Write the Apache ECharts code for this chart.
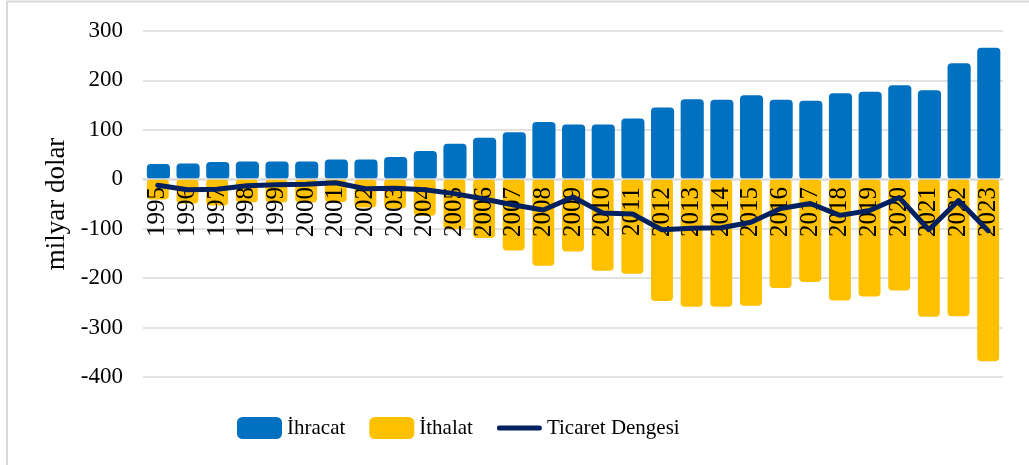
<!DOCTYPE html>
<html>
<head>
<meta charset="utf-8">
<script src="https://cdn.jsdelivr.net/npm/echarts@6/dist/echarts.min.js"></script>
<style>
  body { margin: 0; background: #fff; }
  #chart { width: 1029px; height: 465px; }
</style>
</head>
<body>
<div id="chart"></div>
<script>
var years = ['1995','1996','1997','1998','1999','2000','2001','2002','2003','2004',
  '2005','2006','2007','2008','2009','2010','2011','2012','2013','2014',
  '2015','2016','2017','2018','2019','2020','2021','2022','2023'];

// milyar dolar
var ihracat = [31, 32, 35, 36, 36, 36, 40, 40, 45, 57,
  72, 84, 95, 116, 111, 111, 123, 145, 162, 161,
  170, 161, 159, 174, 177, 190, 180, 235, 266];

var ithalat = [-41, -49, -53, -47, -47, -47, -46, -57, -59, -74,
  -101, -119, -144, -175, -146, -185, -191, -246, -258, -258,
  -256, -220, -208, -245, -237, -225, -278, -277, -368];

var ticaretDengesi = [-12, -21, -20, -13, -11, -10, -7, -19, -18, -21,
  -29, -40, -52, -62, -36, -68, -70, -102, -99, -98,
  -87, -59, -49, -73, -63, -37, -102, -43, -104];

var font = 'Liberation Serif';

var option = {
  animation: false,
  textStyle: { fontFamily: font },
  graphic: [
    { type: 'line', shape: { x1: 6, y1: 1.5, x2: 1029, y2: 1.5 }, style: { stroke: '#d9d9d9', lineWidth: 2 } },
    { type: 'line', shape: { x1: 7, y1: 1, x2: 7, y2: 465 }, style: { stroke: '#d9d9d9', lineWidth: 2 } }
  ],
  grid: { left: 143, right: 26, top: 31, bottom: 88 },
  legend: {
    left: 232,
    top: 412,
    itemWidth: 45,
    itemHeight: 22,
    itemGap: 24,
    symbolKeepAspect: false,
    textStyle: { fontFamily: font, fontSize: 21, color: '#000' },
    data: [
      { name: 'İhracat', icon: 'roundRect' },
      { name: 'İthalat', icon: 'roundRect' },
      {
        name: 'Ticaret Dengesi',
        // thin bar in the middle; the two tiny pieces only stretch the box to full height
        icon: 'path://M0,0L0.01,0L0.01,0.01Z M2,8.5L45,8.5Q47,8.5 47,11Q47,13.5 45,13.5L2,13.5Q0,13.5 0,11Q0,8.5 2,8.5Z M0,22L0.01,22L0.01,21.99Z'
      }
    ]
  },
  xAxis: {
    type: 'category',
    data: years,
    offset: -198,
    z: 10,
    axisLine: { onZero: false, lineStyle: { color: '#d9d9d9', width: 1.5 } },
    axisTick: { show: false },
    axisLabel: {
      interval: 0,
      rotate: 90,
      margin: 8,
      color: '#000',
      fontFamily: font,
      fontSize: 25
    }
  },
  yAxis: {
    type: 'value',
    min: -400,
    max: 300,
    interval: 100,
    name: 'milyar dolar',
    nameLocation: 'middle',
    nameGap: 72,
    nameTextStyle: { fontFamily: font, fontSize: 27, color: '#000' },
    axisLine: { show: false },
    axisTick: { show: false },
    axisLabel: { margin: 20, color: '#000', fontFamily: font, fontSize: 23 },
    splitLine: { lineStyle: { color: '#d9d9d9', width: 1.5 } }
  },
  series: [
    {
      name: 'İhracat',
      type: 'bar',
      data: ihracat,
      barWidth: '78%',
      barGap: '-100%',
      itemStyle: { color: '#0070C0', borderRadius: 4 }
    },
    {
      name: 'İthalat',
      type: 'bar',
      data: ithalat,
      barWidth: '74%',
      barGap: '-100%',
      itemStyle: { color: '#FFC000', borderRadius: 4 }
    },
    {
      name: 'Ticaret Dengesi',
      type: 'line',
      data: ticaretDengesi,
      symbol: 'none',
      z: 20,
      lineStyle: { color: '#002060', width: 5, join: 'round', cap: 'round' },
      itemStyle: { color: '#002060' }
    }
  ]
};

var chart = echarts.init(document.getElementById('chart'));
chart.setOption(option);
</script>
</body>
</html>
